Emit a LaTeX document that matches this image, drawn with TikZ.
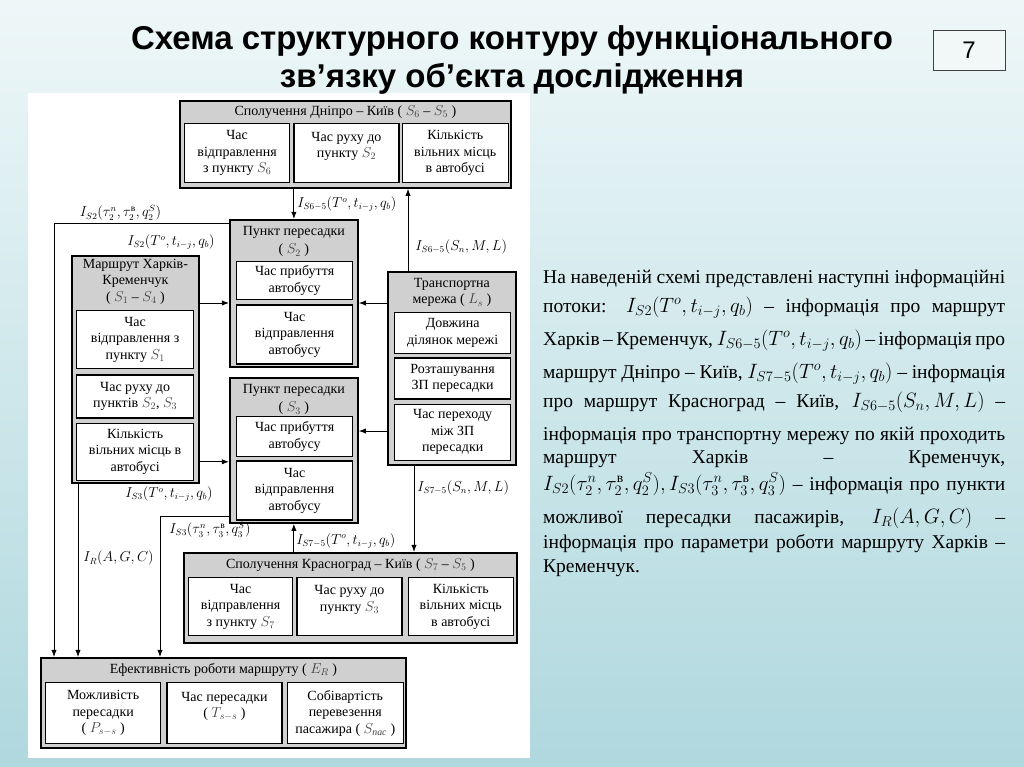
\documentclass[tikz,border=0pt]{standalone}
\usepackage{amsmath}
\usepackage{fontspec}
\setmainfont{Liberation Serif}
\newfontfamily\titlefamily{Liberation Sans}
\usepackage{tikz}
\usetikzlibrary{arrows.meta,positioning,calc}
\definecolor{BoxGray}{HTML}{D0D0D0}
\definecolor{SlideLight}{HTML}{EEF7F8}
\definecolor{SlideTeal}{HTML}{AFD8DE}
\definecolor{TagFill}{HTML}{F2F7F8}
\newcommand{\cellfont}{\fontsize{14}{16.5}\selectfont}
\newcommand{\flowfont}{\fontsize{13.5}{15}\selectfont}
\newcommand{\parafont}{\fontsize{19.5}{24}\selectfont}
\newcommand{\sv}[1]{{\color{darkgray}$#1$}}

\begin{document}
\begin{tikzpicture}[
  x=1pt, y=-1pt,
  group/.style={draw, line width=1.8pt, fill=BoxGray, anchor=north west, inner sep=0pt},
  gtitle/.style={anchor=north, align=center, inner sep=0pt, font=\cellfont},
  cell/.style={draw, line width=1.3pt, fill=white, anchor=north west, align=center, inner sep=0pt, font=\cellfont},
  arrow/.style={-{Latex[length=2.5mm]}, line width=0.9pt},
  flow/.style={font=\flowfont, inner sep=1pt},
  para/.style={anchor=base west, inner sep=0pt, font=\parafont}
]
  \shade[top color=SlideLight, bottom color=SlideTeal] (0,0) rectangle (1024,767);
  \fill[white] (28,93) rectangle (530,758);
  \useasboundingbox (0,0) rectangle (1024,767);

  \node[align=center, font=\titlefamily\bfseries\fontsize{33}{38}\selectfont] (title) at (512,60) {Схема структурного контуру функціонального\\зв’язку об’єкта дослідження};
  \node[draw=darkgray, line width=0.8pt, fill=TagFill, minimum width=72pt, minimum height=40pt, font=\titlefamily\fontsize{24}{28}\selectfont] (pagenum) at (969,50) {7};

  \node[group, minimum width=331pt, minimum height=87pt] (dnipro) at (179,100) {};
  \node[gtitle] (dniprot) at ([yshift=-5pt]dnipro.north) {Сполучення Дніпро – Київ ( \sv{S_6} – \sv{S_5} )};
  \node[cell, minimum width=105pt, minimum height=59pt] (d1) at (184,123) {Час\\відправлення\\з пункту \sv{S_6}};
  \node[cell, minimum width=105pt, minimum height=59pt] (d2) at ([xshift=3pt]d1.north east) {Час руху до\\пункту \sv{S_2}\\\mbox{}};
  \node[cell, minimum width=106pt, minimum height=59pt] (d3) at ([xshift=2pt]d2.north east) {Кількість\\вільних місць\\в автобусі};

  \node[group, minimum width=128pt, minimum height=147pt] (s2) at (229,219) {};
  \node[gtitle] (s2t) at ([yshift=-7pt]s2.north) {Пункт пересадки\\[2pt]( \sv{S_2} )};
  \node[cell, minimum width=116pt, minimum height=38pt] (s2a) at (236,261) {Час прибуття\\автобусу};
  \node[cell, minimum width=116pt, minimum height=59pt] (s2b) at ([yshift=-4pt]s2a.south west) {Час\\відправлення\\автобусу};

  \node[group, minimum width=128pt, minimum height=145pt] (s3) at (229,377) {};
  \node[gtitle] (s3t) at ([yshift=-7pt]s3.north) {Пункт пересадки\\[2pt]( \sv{S_3} )};
  \node[cell, minimum width=116pt, minimum height=40pt] (s3a) at (236,416) {Час прибуття\\автобусу};
  \node[cell, minimum width=116pt, minimum height=59pt] (s3b) at ([yshift=-3pt]s3a.south west) {Час\\відправлення\\автобусу};

  \node[group, minimum width=127pt, minimum height=227pt] (khar) at (71,255) {};
  \node[gtitle] (khart) at ([yshift=-4pt]khar.north) {Маршрут Харків-\\Кременчук\\( \sv{S_1} – \sv{S_4} )};
  \node[cell, minimum width=117pt, minimum height=58pt] (k1) at (76,310) {Час\\відправлення з\\пункту \sv{S_1}};
  \node[cell, minimum width=117pt, minimum height=43pt] (k2) at ([yshift=-5pt]k1.south west) {Час руху до\\пунктів \sv{S_2}, \sv{S_3}};
  \node[cell, minimum width=117pt, minimum height=57pt] (k3) at ([yshift=-4pt]k2.south west) {Кількість\\вільних місць в\\автобусі};

  \node[group, minimum width=128pt, minimum height=193pt] (transport) at (387,271) {};
  \node[gtitle] (transportt) at ([yshift=-7pt]transport.north) {Транспортна\\мережа ( \sv{L_s} )};
  \node[cell, minimum width=116pt, minimum height=41pt] (t1) at (394,312) {Довжина\\ділянок мережі};
  \node[cell, minimum width=116pt, minimum height=41pt] (t2) at ([yshift=-3pt]t1.south west) {Розташування\\ЗП пересадки};
  \node[cell, minimum width=116pt, minimum height=56pt] (t3) at ([yshift=-4pt]t2.south west) {Час переходу\\між ЗП\\пересадки};

  \node[group, minimum width=333pt, minimum height=90pt] (kras) at (183,552) {};
  \node[gtitle] (krast) at ([yshift=-6pt]kras.north) {Сполучення Красноград – Київ ( \sv{S_7} – \sv{S_5} )};
  \node[cell, minimum width=104pt, minimum height=58pt] (c1) at (188,577) {Час\\відправлення\\з пункту \sv{S_7}};
  \node[cell, minimum width=105pt, minimum height=58pt] (c2) at ([xshift=3pt]c1.north east) {Час руху до\\пункту \sv{S_3}\\\mbox{}};
  \node[cell, minimum width=105pt, minimum height=58pt] (c3) at ([xshift=5pt]c2.north east) {Кількість\\вільних місць\\в автобусі};

  \node[group, minimum width=365pt, minimum height=90pt] (eff) at (40,657) {};
  \node[gtitle] (efft) at ([yshift=-6pt]eff.north) {Ефективність роботи маршруту ( \sv{E_R} )};
  \node[cell, minimum width=115pt, minimum height=61pt] (e1) at (45,682) {Можливість\\пересадки\\( \sv{P_{s-s}} )};
  \node[cell, minimum width=115pt, minimum height=61pt] (e2) at ([xshift=5pt]e1.north east) {Час пересадки\\( \sv{T_{s-s}} )\\\mbox{}};
  \node[cell, minimum width=116pt, minimum height=61pt] (e3) at ([xshift=4pt]e2.north east) {Собівартість\\перевезення\\пасажира ( \sv{S_{\text{\itshape пас}}} )};

  \coordinate (tn) at ([xshift=21pt]transport.north west);
  \coordinate (tw2) at ([yshift=-32pt]transport.north west);
  \coordinate (tw3) at ([yshift=-160pt]transport.north west);
  \coordinate (ts) at ([xshift=27pt]transport.south west);
  \coordinate (ke2) at ([yshift=-48pt]khar.north east);
  \coordinate (ke3) at ([yshift=22pt]khar.south east);
  \coordinate (kr) at ([xshift=7pt]khar.south west);

  \draw[arrow] (dnipro.south -| s2.north) -- node[flow, right, xshift=2pt]{$I_{S6-5}(T^{o},t_{i-j},q_b)$} (s2.north);
  \draw[arrow] (tn) -- node[flow, right, pos=0.29, xshift=6pt]{$I_{S6-5}(S_n,M,L)$} (tn |- dnipro.south);
  \draw[arrow] ([yshift=-4pt]s2.north west) -| node[flow, above, pos=0.31, yshift=1pt]{$I_{S2}(\tau_2^n,\tau_2^{\text{в}},q_2^S)$} ([xshift=14pt]eff.north west);
  \draw[arrow] (ke2) -- (ke2 -| s2.west);
  \node[flow] (lk2) at (171,242) {$I_{S2}(T^{o},t_{i-j},q_b)$};
  \draw[arrow] (ke3) -- (ke3 -| s3.west);
  \node[flow] (lk3) at (169,494) {$I_{S3}(T^{o},t_{i-j},q_b)$};
  \draw[arrow] (kr) -- node[flow, right, pos=0.43, xshift=4pt]{$I_R(A,G,C)$} (kr |- eff.north);
  \draw[arrow] ([yshift=7pt]s3.south west) -| node[flow, anchor=north west, pos=0.5, xshift=8pt, yshift=-4pt]{$I_{S3}(\tau_3^n,\tau_3^{\text{в}},q_3^S)$} ([xshift=120pt]eff.north west);
  \draw[arrow] (tw2) -- (tw2 -| s2.east);
  \draw[arrow] (tw3) -- (tw3 -| s3.east);
  \draw[arrow] (ts) -- node[flow, right, pos=0.26, xshift=2pt]{$I_{S7-5}(S_n,M,L)$} (ts |- kras.north);
  \draw[arrow] (kras.north -| s3.south) -- node[flow, right, pos=0.4, xshift=1pt]{$I_{S7-5}(T^{o},t_{i-j},q_b)$} (s3.south);

  \node[para] (p1) at (543,283) {\makebox[462pt][s]{На наведеній схемі представлені наступні інформаційні}};
  \node[para] (p2) at (543,312) {\makebox[462pt][s]{потоки: $I_{S2}(T^{o},t_{i-j},q_b)$ – інформація про маршрут}};
  \node[para] (p3) at (543,345) {\makebox[462pt][s]{Харків – Кременчук, $I_{S6-5}(T^{o},t_{i-j},q_b)$ – інформація про}};
  \node[para] (p4) at (543,378) {\makebox[462pt][s]{маршрут Дніпро – Київ, $I_{S7-5}(T^{o},t_{i-j},q_b)$ – інформація}};
  \node[para] (p5) at (543,407) {\makebox[462pt][s]{про маршрут Красноград – Київ, $I_{S6-5}(S_n,M,L)$ –}};
  \node[para] (p6) at (543,440) {\makebox[462pt][s]{інформація про транспортну мережу по якій проходить}};
  \node[para] (p7) at (543,463) {\makebox[462pt][s]{маршрут Харків – Кременчук,}};
  \node[para] (p8) at (543,490) {\makebox[462pt][s]{$I_{S2}(\tau_2^n,\tau_2^{\text{в}},q_2^S),I_{S3}(\tau_3^n,\tau_3^{\text{в}},q_3^S)$ – інформація про пункти}};
  \node[para] (p9) at (543,523) {\makebox[462pt][s]{можливої пересадки пасажирів, $I_R(A,G,C)$ –}};
  \node[para] (p10) at (543,548) {\makebox[462pt][s]{інформація про параметри роботи маршруту Харків –}};
  \node[para] (p11) at (543,572) {Кременчук.};
\end{tikzpicture}
\end{document}
